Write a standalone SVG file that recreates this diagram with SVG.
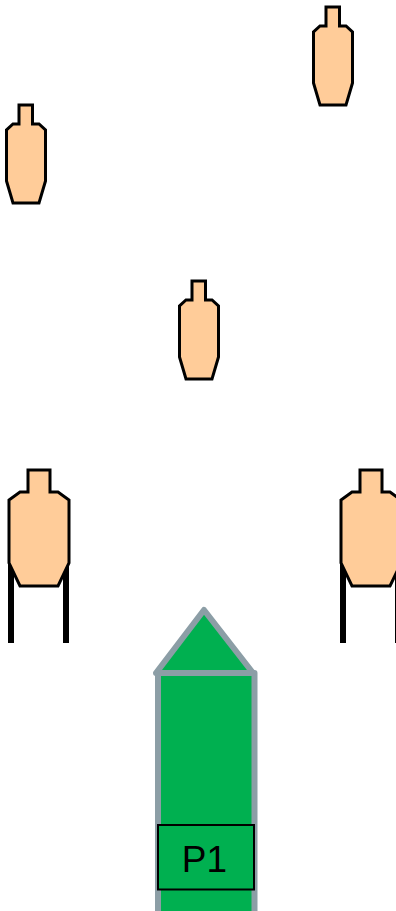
<svg xmlns="http://www.w3.org/2000/svg" width="396" height="911" viewBox="0 0 396 911">
<style>
.t{fill:#ffcc99;stroke:#000;stroke-width:3;stroke-linejoin:miter}
.leg{stroke:#000;stroke-width:6;fill:none}
.box{fill:#00b050;stroke:#8c9ea6;stroke-width:6;stroke-linejoin:round}
</style>
<defs>
<polygon id="small" class="t" points="13,1 26.500,1 26.500,20 33,20 39.500,26 39.500,77 33,99 7,99 0.500,77 0.500,26 7,20 13,20"/>
<polygon id="big" class="t" points="19,1 41,1 41,23 49,23 60,31 60,94 49,117 11,117 0,94 0,31 11,23 19,23"/>
</defs>
<g id="target-top-right"><use href="#small" x="313" y="6"/></g>
<g id="target-left"><use href="#small" x="6" y="104"/></g>
<g id="target-center"><use href="#small" x="179" y="280"/></g>
<g id="target-big-left">
<path class="leg" d="M11 563V643M66 563V643"/>
<use href="#big" x="9" y="469"/>
</g>
<g id="target-big-right">
<path class="leg" d="M343 563V643M398 563V643"/>
<use href="#big" x="341" y="469"/>
</g>
<g id="position-p1">
<path class="box" d="M158 673H254.500V920H158Z"/>
<path class="box" d="M156 673L204 610L253 673Z"/>
<rect x="158" y="825" width="96" height="64.500" fill="#00b050" stroke="#000" stroke-width="2"/>
<text x="204.500" y="872" font-family="'Liberation Sans',Arial,sans-serif" font-size="37" text-anchor="middle" fill="#000">P1</text>
</g>
<g id="connectors"/>
</svg>
